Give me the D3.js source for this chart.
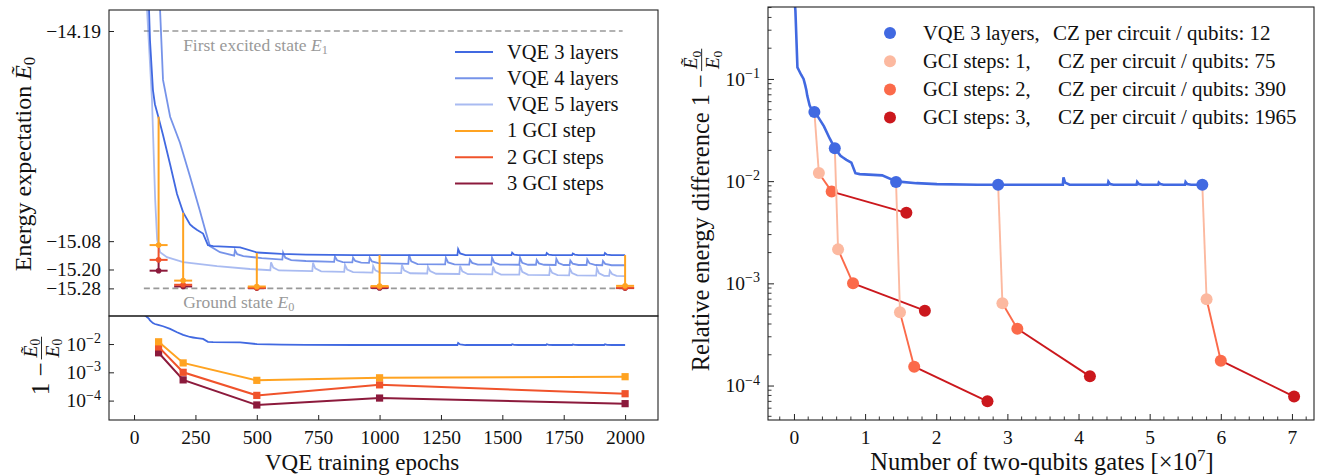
<!DOCTYPE html>
<head>
  <meta charset="utf-8">
  <style>
    body { margin: 0; background: #fff; }
  </style>
</head>
<svg width="1320" height="475"></svg>
<script src="https://d3js.org/d3.v7.min.js"></script>
<script>
  // ---- data ----
  const E0 = -15.28, E1 = -14.19;
  const gciEpochs = [100, 200, 500, 1000, 2000];
  const vqeAtGci = [-14.553, -14.960, -15.130, -15.139, -15.139];
  const gci1Rel = [1.2e-2, 2.15e-3, 5.2e-4, 6.4e-4, 7.0e-4];
  const gci2Rel = [7.9e-3, 1.0e-3, 1.53e-4, 3.6e-4, 1.75e-4];
  const gci3Rel = [4.9e-3, 5.4e-4, 7.0e-5, 1.23e-4, 7.8e-5];
  // two-qubit gates (x1e7) of the GCI points in the right panel
  const gci1Gates = [0.35, 0.62, 1.49, 2.93, 5.80];
  const gci2Gates = [0.53, 0.83, 1.69, 3.14, 6.00];
  const gci3Gates = [1.58, 1.84, 2.72, 4.16, 7.03];
  const gatesPerEpoch = 0.00287; // x1e7 gates per VQE epoch (3 layers)

  const vqe3 = [
    [0, -5.0], [7, -8.1], [17, -13.3], [24, -13.42], [35, -13.6], [47, -13.75], [55, -13.95],
    [61, -14.10], [65, -14.23], [77, -14.44], [85, -14.50], [98, -14.55], [118, -14.63],
    [147, -14.755], [175, -14.88], [200, -14.958], [228, -15.009], [240, -15.020], [257, -15.033],
    [281, -15.048], [301, -15.097], [322, -15.101], [432, -15.106], [501, -15.128], [600, -15.134],
    [700, -15.137], [900, -15.139],
    [1317, -15.139], [1320, -15.114], [1328, -15.132], [1350, -15.139],
    [1537, -15.139], [1540, -15.129], [1548, -15.137], [1565, -15.139],
    [1678, -15.139], [1681, -15.130], [1689, -15.137], [1705, -15.139],
    [1784, -15.139], [1787, -15.132], [1795, -15.137], [1810, -15.139],
    [1915, -15.139], [1918, -15.130], [1926, -15.137], [1945, -15.139],
    [2000, -15.139]
  ];
  const vqe4 = [
    [0, -12.0], [90, -13.7], [106, -14.101], [118, -14.397], [147, -14.553], [187, -14.663],
    [228, -14.806], [269, -14.954], [289, -15.030], [309, -15.101], [350, -15.127],
    [408, -15.141], [411, -15.118], [420, -15.135], [445, -15.143],
    [520, -15.152],
    [604, -15.158], [607, -15.128], [616, -15.150], [640, -15.160],
    [700, -15.164],
    [815, -15.168], [818, -15.145], [827, -15.161], [850, -15.169],
    [889, -15.170], [892, -15.150], [901, -15.164], [925, -15.171],
    [957, -15.172], [960, -15.150], [969, -15.166], [995, -15.173],
    [1117, -15.176], [1120, -15.138], [1129, -15.165], [1155, -15.177],
    [1267, -15.178], [1270, -15.150], [1279, -15.170], [1305, -15.178],
    [1365, -15.179], [1368, -15.158], [1377, -15.172], [1400, -15.179],
    [1455, -15.179], [1458, -15.150], [1467, -15.171], [1490, -15.179],
    [1569, -15.180], [1572, -15.150], [1581, -15.172], [1605, -15.180],
    [1637, -15.180], [1640, -15.160], [1649, -15.174], [1670, -15.180],
    [1717, -15.181], [1720, -15.155], [1729, -15.173], [1750, -15.181],
    [1774, -15.181], [1777, -15.162], [1786, -15.175], [1810, -15.181],
    [1843, -15.181], [1846, -15.158], [1855, -15.174], [1880, -15.181],
    [1907, -15.182], [1910, -15.164], [1919, -15.176], [1945, -15.182],
    [2000, -15.182]
  ];
  const vqe5 = [
    [0, -12.5], [40, -13.6], [53, -14.101], [73, -14.481], [86, -14.903], [94, -15.072],
    [106, -15.127], [134, -15.148], [200, -15.169], [338, -15.186], [472, -15.198],
    [555, -15.203], [558, -15.170], [567, -15.192], [590, -15.204],
    [726, -15.207], [729, -15.172], [738, -15.195], [762, -15.208],
    [856, -15.210], [859, -15.180], [868, -15.200], [892, -15.211],
    [971, -15.213], [974, -15.185], [983, -15.204], [1005, -15.214],
    [1088, -15.215], [1091, -15.180], [1100, -15.204], [1125, -15.216],
    [1194, -15.217], [1197, -15.188], [1206, -15.207], [1230, -15.218],
    [1325, -15.219], [1328, -15.185], [1337, -15.208], [1360, -15.220],
    [1459, -15.221], [1462, -15.188], [1471, -15.210], [1495, -15.222],
    [1569, -15.222], [1572, -15.182], [1581, -15.210], [1605, -15.223],
    [1691, -15.224], [1694, -15.195], [1703, -15.214], [1725, -15.224],
    [1772, -15.225], [1775, -15.196], [1784, -15.215], [1805, -15.225],
    [1882, -15.226], [1885, -15.195], [1894, -15.216], [1915, -15.227],
    [1935, -15.227], [1938, -15.205], [1947, -15.219], [1965, -15.227],
    [2000, -15.228]
  ];

  const energyTicks = [-14.19, -15.08, -15.20, -15.28];
  const epochTicks = [0, 250, 500, 750, 1000, 1250, 1500, 1750, 2000];
  const relTicksBottom = [1e-2, 1e-3, 1e-4];
  const relTicksRight = [1e-1, 1e-2, 1e-3, 1e-4];
  const gateTicks = [0, 1, 2, 3, 4, 5, 6, 7];
  const legendLeft = ["VQE 3 layers", "VQE 4 layers", "VQE 5 layers", "1 GCI step", "2 GCI steps", "3 GCI steps"];
  const legendRight = ["VQE 3 layers,", "GCI steps: 1,", "GCI steps: 2,", "GCI steps: 3,"];
  const czPerQubit = [12, 75, 390, 1965];

  // ---- styles ----
  const FONT = '"Liberation Serif"';
  const blue = "#4169e1";
  const gciLeft = ["#ffa321", "#f0532b", "#8c1a3c"];
  const gciRight = ["#fcb9a0", "#fb6a4a", "#cb181d"];
  const tickFs = 19.5, labFs = 23;

  const rel = e => 1 - e / E0;
  const energy = r => E0 * (1 - r);

  const svg = d3.select("svg");
  const defs = svg.append("defs");

  const xL = d3.scaleLinear().domain([-102, 2134]).range([109, 658]);
  const yTop = d3.scaleLinear().domain([-14.101, -15.397]).range([10, 316]);
  const yBot = d3.scaleLog().domain([0.098, 2.06e-5]).range([316, 420]);
  const xR = d3.scaleLinear().domain([-0.365, 7.31]).range([768, 1314]);
  const yR = d3.scaleLog().domain([0.506, 4.6e-5]).range([7, 420]);

  function txt(parent, fs) {
    return parent.append("text").style("font-family", FONT).attr("font-size", fs).attr("fill", "#111");
  }

  function clip(id, x, y, w, h) {
    defs.append("clipPath").attr("id", id).append("rect")
      .attr("x", x).attr("y", y).attr("width", w).attr("height", h);
    return svg.append("g").attr("clip-path", "url(#" + id + ")");
  }

  function sup(sel) {
    sel.each(function(d) {
      const t = d3.select(this);
      const ex = Math.round(Math.log10(d));
      t.text(null);
      t.append("tspan").text("10");
      t.append("tspan").attr("dy", "-0.55em").attr("font-size", "0.72em").text("\u2212" + Math.abs(ex));
    });
  }

  // ================= left top panel =================
  const gTop = clip("cTop", 109, 10, 549, 306);

  [E1, E0].forEach(e => {
    gTop.append("line")
      .attr("x1", xL(40)).attr("x2", xL(1990))
      .attr("y1", yTop(e)).attr("y2", yTop(e))
      .attr("stroke", "#999").attr("stroke-width", 1.6).attr("stroke-dasharray", "6,3.5");
  });

  const lineTop = d3.line().x(d => xL(d[0])).y(d => yTop(d[1]));
  gTop.append("path").datum(vqe5).attr("d", lineTop)
    .attr("fill", "none").attr("stroke", blue).attr("stroke-opacity", 0.45).attr("stroke-width", 1.8);
  gTop.append("path").datum(vqe4).attr("d", lineTop)
    .attr("fill", "none").attr("stroke", blue).attr("stroke-opacity", 0.72).attr("stroke-width", 1.8);
  gTop.append("path").datum(vqe3).attr("d", lineTop)
    .attr("fill", "none").attr("stroke", blue).attr("stroke-width", 1.8);

  // GCI error bars
  const gciRels = [gci1Rel, gci2Rel, gci3Rel];
  gciEpochs.forEach((ep, i) => {
    const levels = [vqeAtGci[i], energy(gci1Rel[i]), energy(gci2Rel[i]), energy(gci3Rel[i])];
    for (let k = 0; k < 3; k++) {
      gTop.append("line")
        .attr("x1", xL(ep)).attr("x2", xL(ep))
        .attr("y1", yTop(levels[k])).attr("y2", yTop(levels[k + 1]))
        .attr("stroke", gciLeft[k]).attr("stroke-width", 2);
    }
    for (let k = 2; k >= 0; k--) {
      const y = yTop(levels[k + 1]);
      gTop.append("line")
        .attr("x1", xL(ep) - 9).attr("x2", xL(ep) + 9)
        .attr("y1", y).attr("y2", y)
        .attr("stroke", gciLeft[k]).attr("stroke-width", 2);
      gTop.append("circle").attr("cx", xL(ep)).attr("cy", y).attr("r", 2.8)
        .attr("fill", gciLeft[k]);
    }
  });

  txt(svg, 17.5).attr("x", xL(200)).attr("y", 51).attr("fill", "#999")
    .call(t => {
      t.append("tspan").text("First excited state ");
      t.append("tspan").attr("font-style", "italic").text("E");
      t.append("tspan").attr("font-size", "0.7em").attr("dy", "0.25em").text("1");
    });
  txt(svg, 17.5).attr("x", xL(200)).attr("y", 308).attr("fill", "#999")
    .call(t => {
      t.append("tspan").text("Ground state ");
      t.append("tspan").attr("font-style", "italic").text("E");
      t.append("tspan").attr("font-size", "0.7em").attr("dy", "0.25em").text("0");
    });

  // left legend
  const legColors = [[blue, 1], [blue, 0.72], [blue, 0.45], [gciLeft[0], 1], [gciLeft[1], 1], [gciLeft[2], 1]];
  legendLeft.forEach((name, i) => {
    const y = 52 + i * 26.3;
    svg.append("line").attr("x1", 455).attr("x2", 493).attr("y1", y).attr("y2", y)
      .attr("stroke", legColors[i][0]).attr("stroke-opacity", legColors[i][1]).attr("stroke-width", 2);
    txt(svg, 20.5).attr("x", 507).attr("y", y + 6.5).text(name);
  });

  svg.append("g").attr("transform", "translate(109,0)")
    .call(d3.axisLeft(yTop).tickValues(energyTicks).tickSize(-5).tickPadding(8).tickFormat(d3.format(".2f")));

  // ================= left bottom panel =================
  const gBot = clip("cBot", 109, 316, 549, 104);
  gBot.append("path").datum(vqe3)
    .attr("d", d3.line().x(d => xL(d[0])).y(d => yBot(rel(d[1]))))
    .attr("fill", "none").attr("stroke", blue).attr("stroke-width", 1.8);
  [2, 1, 0].forEach(k => {
    const pts = gciEpochs.map((ep, i) => [ep, gciRels[k][i]]);
    gBot.append("path").datum(pts)
      .attr("d", d3.line().x(d => xL(d[0])).y(d => yBot(d[1])))
      .attr("fill", "none").attr("stroke", gciLeft[k]).attr("stroke-width", 2);
    gBot.selectAll(null).data(pts).enter().append("rect")
      .attr("x", d => xL(d[0]) - 3.6).attr("y", d => yBot(d[1]) - 3.6)
      .attr("width", 7.2).attr("height", 7.2).attr("fill", gciLeft[k]);
  });

  const axBotY = svg.append("g").attr("transform", "translate(109,0)")
    .call(d3.axisLeft(yBot).tickValues(relTicksBottom).tickSize(-5).tickPadding(8));
  axBotY.selectAll(".tick text").call(sup);
  svg.append("g").attr("transform", "translate(0,420)")
    .call(d3.axisBottom(xL).tickValues(epochTicks).tickSize(-5).tickPadding(10).tickFormat(d3.format("d")));

  svg.append("rect").attr("x", 109).attr("y", 10).attr("width", 549).attr("height", 306)
    .attr("fill", "none").attr("stroke", "#222").attr("stroke-width", 1.1);
  svg.append("rect").attr("x", 109).attr("y", 316).attr("width", 549).attr("height", 104)
    .attr("fill", "none").attr("stroke", "#222").attr("stroke-width", 1.1);

  // ================= right panel =================
  const gR = clip("cR", 768, 7, 546, 413);
  gR.append("path").datum(vqe3)
    .attr("d", d3.line().x(d => xR(d[0] * gatesPerEpoch)).y(d => yR(rel(d[1]))))
    .attr("fill", "none").attr("stroke", blue).attr("stroke-width", 2.6);

  const gciGates = [gci1Gates, gci2Gates, gci3Gates];
  gciEpochs.forEach((ep, i) => {
    const pts = [[ep * gatesPerEpoch, rel(vqeAtGci[i])]];
    for (let k = 0; k < 3; k++) pts.push([gciGates[k][i], gciRels[k][i]]);
    for (let k = 0; k < 3; k++) {
      gR.append("line")
        .attr("x1", xR(pts[k][0])).attr("y1", yR(pts[k][1]))
        .attr("x2", xR(pts[k + 1][0])).attr("y2", yR(pts[k + 1][1]))
        .attr("stroke", gciRight[k]).attr("stroke-width", 1.9);
    }
    gR.append("circle").attr("cx", xR(pts[0][0])).attr("cy", yR(pts[0][1])).attr("r", 6).attr("fill", blue);
    for (let k = 0; k < 3; k++) {
      gR.append("circle").attr("cx", xR(pts[k + 1][0])).attr("cy", yR(pts[k + 1][1]))
        .attr("r", 6).attr("fill", gciRight[k]);
    }
  });

  // right legend
  const legRColors = [blue].concat(gciRight);
  legendRight.forEach((name, i) => {
    const y = 33 + i * 28.2;
    svg.append("circle").attr("cx", 890).attr("cy", y).attr("r", 6).attr("fill", legRColors[i]);
    txt(svg, 20.5).attr("x", 923).attr("y", y + 6.5).text(name);
    txt(svg, 21).attr("x", i === 0 ? 1053 : 1058).attr("y", y + 6.5)
      .text("CZ per circuit / qubits:  " + czPerQubit[i]);
  });

  const axRY = svg.append("g").attr("transform", "translate(768,0)")
    .call(d3.axisLeft(yR).tickValues(relTicksRight).tickSize(-6).tickPadding(8));
  axRY.selectAll(".tick text").call(sup);
  const minorY = [];
  [1e-5, 1e-4, 1e-3, 1e-2, 1e-1].forEach(b => { for (let m = 2; m <= 9; m++) minorY.push(b * m); });
  svg.append("g").selectAll("line").data(minorY.filter(v => v > 4.6e-5 && v < 0.506)).enter().append("line")
    .attr("x1", 768).attr("x2", 771.5).attr("y1", d => yR(d)).attr("y2", d => yR(d))
    .attr("stroke", "#222").attr("stroke-width", 0.9);
  svg.append("g").attr("transform", "translate(0,420)")
    .call(d3.axisBottom(xR).tickValues(gateTicks).tickSize(-6).tickPadding(10).tickFormat(d3.format("d")));
  const minorX = d3.range(-1, 37).map(i => i * 0.2).filter(v => Math.abs(v - Math.round(v)) > 1e-6 && v > -0.36 && v < 7.3);
  svg.append("g").selectAll("line").data(minorX).enter().append("line")
    .attr("x1", d => xR(d)).attr("x2", d => xR(d)).attr("y1", 420).attr("y2", 416.5)
    .attr("stroke", "#222").attr("stroke-width", 0.9);

  svg.append("rect").attr("x", 768).attr("y", 7).attr("width", 546).attr("height", 413)
    .attr("fill", "none").attr("stroke", "#222").attr("stroke-width", 1.1);

  // axis styling
  svg.selectAll(".domain").remove();
  svg.selectAll(".tick line").attr("stroke", "#222").attr("stroke-width", 1);
  svg.selectAll(".tick text").style("font-family", FONT).attr("font-size", tickFs).attr("fill", "#111");

  // ---- axis labels ----
  txt(svg, labFs).attr("x", 362).attr("y", 470).attr("text-anchor", "middle").text("VQE training epochs");
  txt(svg, 24.5).attr("x", 1042).attr("y", 470).attr("text-anchor", "middle")
    .call(t => {
      t.append("tspan").text("Number of two-qubits gates [\u00d710");
      t.append("tspan").attr("dy", "-0.5em").attr("font-size", "0.7em").text("7");
      t.append("tspan").attr("dy", "0.35em").text("]");
    });

  txt(svg, 24).attr("transform", "translate(31,164) rotate(-90)").attr("text-anchor", "middle")
    .call(t => {
      t.append("tspan").text("Energy expectation ");
      t.append("tspan").attr("font-style", "italic").text("\u1ebc");
      t.append("tspan").attr("font-size", "0.7em").attr("dy", "0.25em").text("0");
    });

  function fracLabel(cx, cy, prefix, fs) {
    const g = svg.append("g").attr("transform", "translate(" + cx + "," + cy + ") rotate(-90)");
    const t = txt(g, fs).text(prefix);
    const w1 = t.node().getComputedTextLength();
    const ffs = fs * 0.78;
    const num = txt(g, ffs).attr("text-anchor", "middle");
    num.append("tspan").attr("font-style", "italic").text("\u1ebc");
    num.append("tspan").attr("font-size", "0.7em").attr("dy", "0.25em").text("0");
    const den = txt(g, ffs).attr("text-anchor", "middle");
    den.append("tspan").attr("font-style", "italic").text("E");
    den.append("tspan").attr("font-size", "0.7em").attr("dy", "0.25em").text("0");
    const wf = Math.max(num.node().getComputedTextLength(), den.node().getComputedTextLength()) + 4;
    const total = w1 + 3 + wf;
    const x0 = -total / 2;
    t.attr("x", x0);
    const fc = x0 + w1 + 3 + wf / 2;
    num.attr("x", fc).attr("y", -0.48 * fs);
    den.attr("x", fc).attr("y", 0.4 * fs);
    g.append("line").attr("x1", fc - wf / 2).attr("x2", fc + wf / 2)
      .attr("y1", -0.3 * fs).attr("y2", -0.3 * fs).attr("stroke", "#111").attr("stroke-width", 0.9);
  }
  fracLabel(49, 366, "1 \u2212", 25);
  fracLabel(709, 210, "Relative energy difference 1 \u2212", 24.5);
</script>
